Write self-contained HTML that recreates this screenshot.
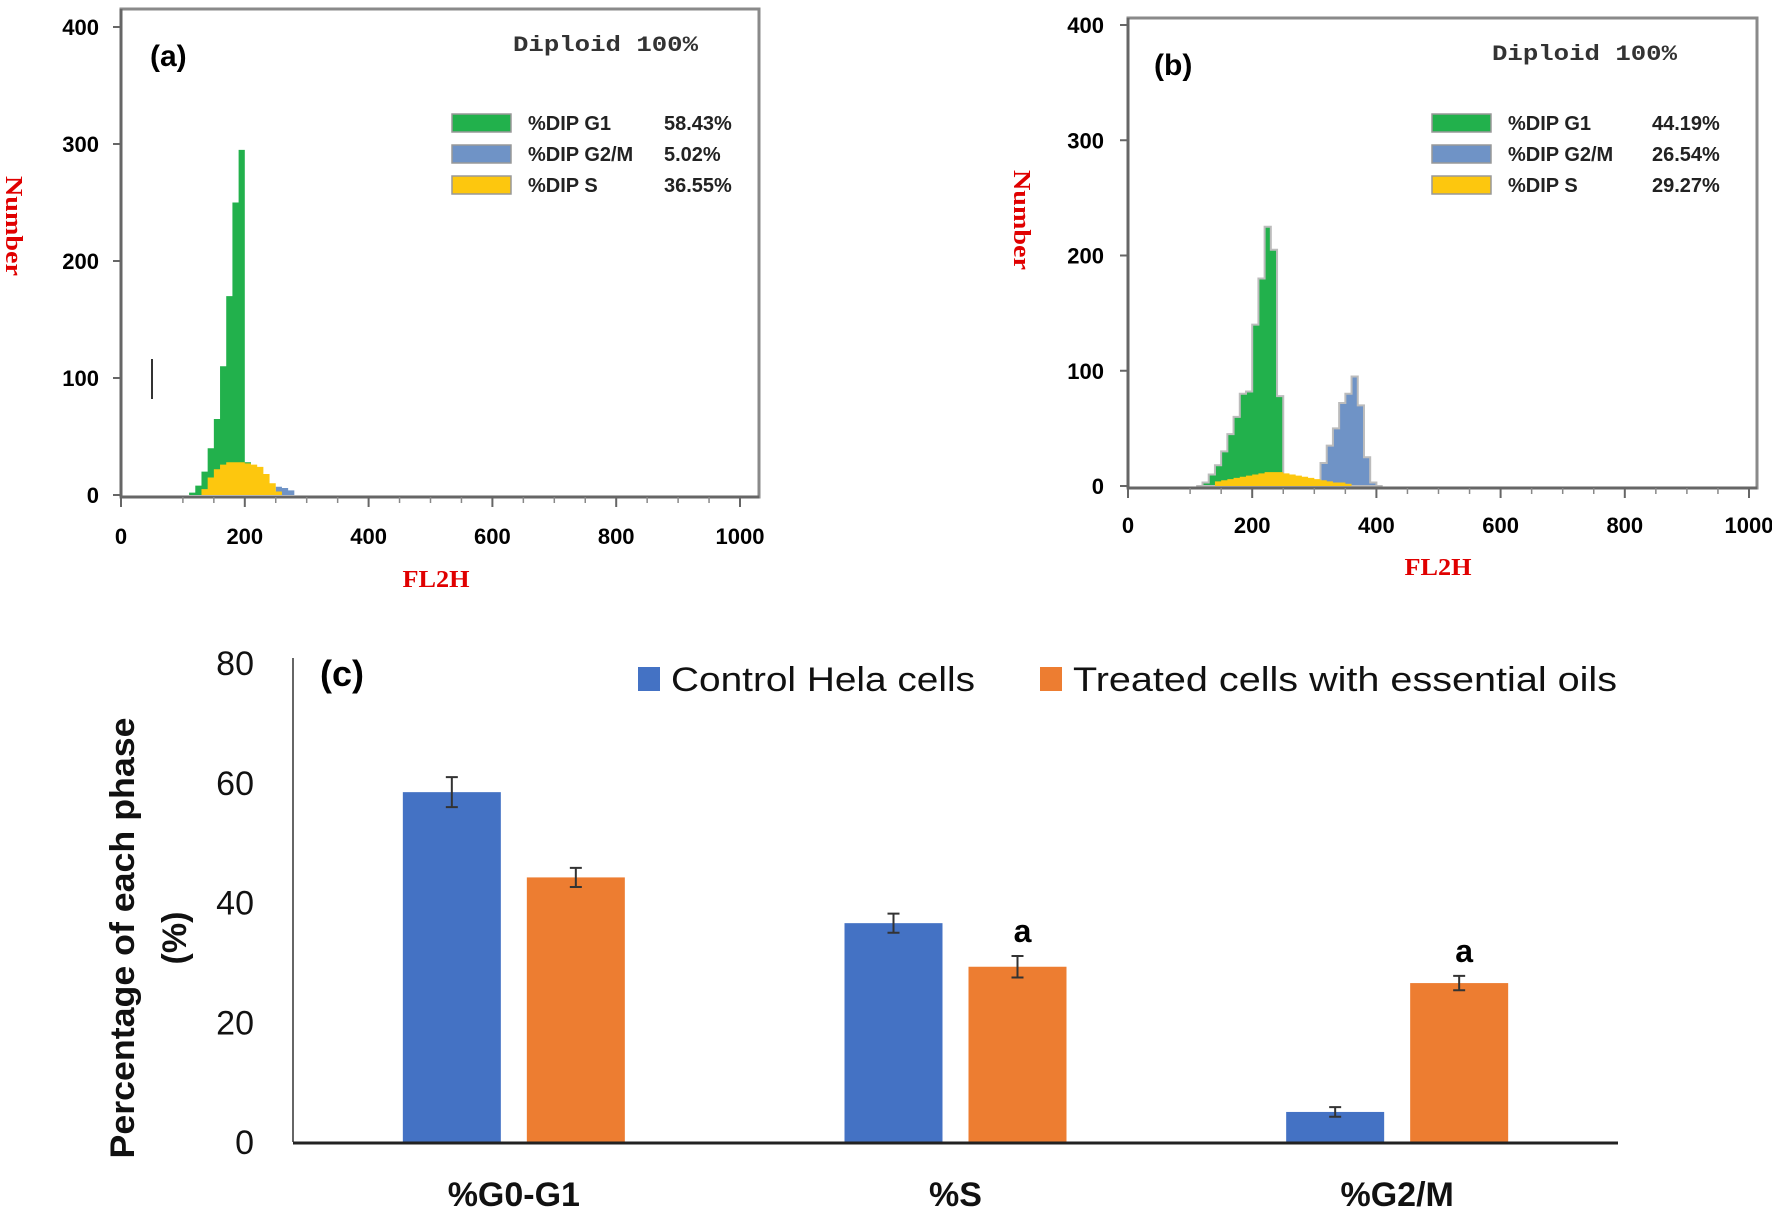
<!DOCTYPE html>
<html><head><meta charset="utf-8"><style>
body{margin:0;background:#fff;}
svg{display:block;font-family:"Liberation Sans",sans-serif;}
</style></head><body>
<svg id="fig" width="1772" height="1214" viewBox="0 0 1772 1214" xmlns="http://www.w3.org/2000/svg"></svg>
<script>
// ---- Panel (a) histogram data (bins of 10 starting at 110) ----
const binStartA = 110;
const g1A = [2, 8, 20, 40, 65, 110, 170, 250, 295, 28, 0, 0, 0, 0, 0, 0, 0, 0];
const sA  = [0, 0, 5, 15, 22, 26, 28, 28, 28, 27, 26, 24, 18, 10, 3, 0, 0, 0];
const g2A = [0, 0, 0, 0, 0, 0, 0, 0, 0, 0, 0, 0, 0, 0, 7, 6, 4, 0];
// ---- Panel (b) histogram data (bins of 10 starting at 110) ----
const binStartB = 110;
const g1B = [0, 3, 10, 18, 30, 45, 60, 80, 82, 140, 180, 225, 205, 78, 0, 0, 0, 0, 0, 0, 0, 0, 0, 0, 0, 0, 0, 0, 0, 0];
const sB  = [0, 0, 0, 4, 5, 6, 7, 8, 9, 10, 11, 12, 12, 12, 11, 10, 9, 8, 7, 6, 5, 4, 3, 3, 2, 0, 0, 0, 0, 0];
const g2B = [0, 0, 0, 0, 0, 0, 0, 0, 0, 0, 0, 0, 0, 0, 0, 0, 0, 0, 0, 0, 20, 35, 50, 72, 80, 95, 70, 25, 3, 0];
// ---- Panel (c) bar data ----
const categories = ["%G0-G1", "%S", "%G2/M"];
const controlVals = [58.43, 36.55, 5.02];
const treatedVals = [44.19, 29.27, 26.54];
const controlErr = [2.5, 1.6, 0.8];
const treatedErr = [1.6, 1.8, 1.2];
const treatedSig = ["", "a", "a"];
const yTicksC = [0, 20, 40, 60, 80];
const histYTicks = [0, 100, 200, 300, 400];
const histXTicks = [0, 200, 400, 600, 800, 1000];

const NS = "http://www.w3.org/2000/svg";
const svg = document.getElementById('fig');
function mk(tag, attrs, parent, text){
  const e = document.createElementNS(NS, tag);
  for (const k in attrs) e.setAttribute(k, attrs[k]);
  if (text !== undefined) e.textContent = text;
  (parent || svg).appendChild(e);
  return e;
}

function histPanel(P){
  const g = mk('g', {});
  
  
  const xs = v => P.x0 + (v / 1000) * (P.x1 - P.x0);
  const ys = v => P.y0 - (v / 400) * (P.y0 - P.y400);
  const fr = mk('rect', {x: P.left, y: P.top, width: P.right - P.left, height: P.bottom - P.top, fill: '#fff', stroke: '#8a8a8a', 'stroke-width': 3}, g);
  
  
  function stepPath(arr, start, color, name, outline){
    let d = 'M' + xs(start) + ',' + ys(0);
    arr.forEach((v, i) => {
      d += ' L' + xs(start + i * 10) + ',' + ys(v) + ' L' + xs(start + (i + 1) * 10) + ',' + ys(v);
    });
    d += ' L' + xs(start + arr.length * 10) + ',' + ys(0) + ' Z';
    const p = mk('path', {d: d, fill: color, stroke: outline ? '#bcbcbc' : 'none', 'stroke-width': outline ? 2 : 0}, g);
    
    
  }
  stepPath(P.g1, P.start, '#22b14c', 'g1-histogram', P.outline);
  stepPath(P.g2, P.start, '#6f93c6', 'g2m-histogram', P.outline);
  stepPath(P.s, P.start, '#fdc70e', 's-histogram', false);
  mk('line', {x1: P.x0, y1: P.y0 + 2, x2: P.right, y2: P.y0 + 2, stroke: '#666', 'stroke-width': 3}, g);
  mk('line', {x1: P.left, y1: P.top, x2: P.left, y2: P.bottom, stroke: '#666', 'stroke-width': 3}, g);
  histXTicks.forEach(t => {
    mk('line', {x1: xs(t), y1: P.y0 + 2, x2: xs(t), y2: P.y0 + 12, stroke: '#666', 'stroke-width': 2}, g);
    const tx = mk('text', {x: xs(t), y: P.xlabY, 'text-anchor': 'middle', 'font-size': 22, 'font-weight': 'bold'}, g, t);
    
    
  });
  for (let t = 100; t < 1000; t += 50) {
    if (t % 200) mk('line', {x1: xs(t), y1: P.y0 + 2, x2: xs(t), y2: P.y0 + 8, stroke: '#888', 'stroke-width': 1.5}, g);
  }
  histYTicks.forEach(t => {
    mk('line', {x1: P.left - 8, y1: ys(t), x2: P.left, y2: ys(t), stroke: '#666', 'stroke-width': 2}, g);
    const ty = mk('text', {x: P.ylabX, y: ys(t) + 8, 'text-anchor': 'end', 'font-size': 22, 'font-weight': 'bold'}, g, t);
    
    
  });
  const pl = mk('text', {x: P.lblX, y: P.top + 57, 'font-size': 30, 'font-weight': 'bold'}, g, P.label);
  
  
  const dp = mk('text', {x: P.dipX, y: P.top + 42, 'font-size': 22, 'font-weight': 'bold', 'font-family': 'Liberation Mono, monospace', fill: '#333', textLength: 185, lengthAdjust: 'spacingAndGlyphs'}, g, 'Diploid 100%');
  
  
  const leg = [['%DIP G1', P.pct[0], '#22b14c'], ['%DIP G2/M', P.pct[1], '#6f93c6'], ['%DIP S', P.pct[2], '#fdc70e']];
  leg.forEach((L, i) => {
    const ly = P.legY + i * 31;
    const r = mk('rect', {x: P.legX, y: ly, width: 59, height: 18, fill: L[2], stroke: '#999', 'stroke-width': 1.5}, g);
    
    
    const t1 = mk('text', {x: P.legX + 76, y: ly + 16, 'font-size': 20, 'font-weight': 'bold', fill: '#222'}, g, L[0]);
    
    
    const t2 = mk('text', {x: P.legVX, y: ly + 16, 'font-size': 20, 'font-weight': 'bold', fill: '#222'}, g, L[1]);
    
    
  });
  const yt = mk('text', {x: 0, y: 0, 'font-size': 24, 'font-weight': 'bold', fill: '#e00000', 'font-family': 'Liberation Serif, serif', 'text-anchor': 'middle', textLength: 100, lengthAdjust: 'spacingAndGlyphs', transform: 'translate(' + P.ytX + ',' + P.ytY + ') rotate(90)'}, g, 'Number');
  
  
  const xt = mk('text', {x: P.xtX, y: P.xtY, 'font-size': 24, 'font-weight': 'bold', fill: '#e00000', 'font-family': 'Liberation Serif, serif', 'text-anchor': 'middle', textLength: 67, lengthAdjust: 'spacingAndGlyphs'}, g, 'FL2H');
  
  
  return g;
}

const ga = histPanel({name: 'histogram-panel-a', left: 121, right: 759, top: 9, bottom: 497, x0: 121, x1: 740, y0: 495, y400: 27,
  start: binStartA, g1: g1A, s: sA, g2: g2A, outline: false, label: '(a)', lblX: 150, dipX: 513,
  legX: 452, legY: 114, legVX: 664, pct: ['58.43%', '5.02%', '36.55%'], ylabX: 99, xlabY: 544, ytX: 6, ytY: 226, xtX: 436, xtY: 587});
mk('line', {x1: 152, y1: 359, x2: 152, y2: 399, stroke: '#333', 'stroke-width': 2}, ga);
histPanel({name: 'histogram-panel-b', left: 1128, right: 1757, top: 18, bottom: 488, x0: 1128, x1: 1749, y0: 486, y400: 25,
  start: binStartB, g1: g1B, s: sB, g2: g2B, outline: true, label: '(b)', lblX: 1154, dipX: 1492,
  legX: 1432, legY: 114, legVX: 1652, pct: ['44.19%', '26.54%', '29.27%'], ylabX: 1104, xlabY: 533, ytX: 1014, ytY: 220, xtX: 1438, xtY: 575});

// ---- Panel (c) bar chart ----
const C = {left: 293, right: 1618, base: 1142, top80: 663};
const gc = mk('g', {});


const yc = v => C.base - (v / 80) * (C.base - C.top80);
const bandW = (C.right - C.left) / categories.length;
const barW = 98, gap = 26;
mk('line', {x1: C.left, y1: C.top80 - 5, x2: C.left, y2: C.base, stroke: '#333', 'stroke-width': 1.5}, gc);
yTicksC.forEach(t => {
  const tx = mk('text', {x: 254, y: yc(t) + 12, 'text-anchor': 'end', 'font-size': 34, fill: '#111'}, gc, t);
  
  
});
categories.forEach((c, i) => {
  const cx = C.left + bandW * (i + 0.5);
  const series = [[controlVals[i], controlErr[i], '#4472c4', cx - gap / 2 - barW, 'bar-control'], [treatedVals[i], treatedErr[i], '#ed7d31', cx + gap / 2, 'bar-treated']];
  series.forEach(S => {
    const b = mk('rect', {x: S[3], y: yc(S[0]), width: barW, height: C.base - yc(S[0]), fill: S[2]}, gc);
    
    
    const mx = S[3] + barW / 2;
    const e = mk('path', {d: 'M' + mx + ',' + yc(S[0] + S[1]) + ' V' + yc(S[0] - S[1]) + ' M' + (mx - 6) + ',' + yc(S[0] + S[1]) + ' H' + (mx + 6) + ' M' + (mx - 6) + ',' + yc(S[0] - S[1]) + ' H' + (mx + 6), stroke: '#333', 'stroke-width': 2, fill: 'none'}, gc);
    
    
  });
  if (treatedSig[i]) {
    const sx = cx + gap / 2 + barW / 2;
    const st = mk('text', {x: sx + 5, y: yc(treatedVals[i] + treatedErr[i]) - 14, 'text-anchor': 'middle', 'font-size': 32, 'font-weight': 'bold'}, gc, treatedSig[i]);
    
    
  }
  const cl = mk('text', {x: cx, y: 1206, 'text-anchor': 'middle', 'font-size': 34, 'font-weight': 'bold', fill: '#111'}, gc, c);
  
  
});
mk('line', {x1: C.left, y1: C.base + 1, x2: C.right, y2: C.base + 1, stroke: '#222', 'stroke-width': 3}, gc);
const lc = mk('text', {x: 320, y: 686, 'font-size': 36, 'font-weight': 'bold'}, gc, '(c)');


const l1 = mk('rect', {x: 638, y: 667, width: 22, height: 24, fill: '#4472c4'}, gc);


const lt1 = mk('text', {x: 671, y: 691, 'font-size': 34, fill: '#111', textLength: 304, lengthAdjust: 'spacingAndGlyphs'}, gc, 'Control Hela cells');


const l2 = mk('rect', {x: 1040, y: 667, width: 22, height: 24, fill: '#ed7d31'}, gc);


const lt2 = mk('text', {x: 1073, y: 691, 'font-size': 34, fill: '#111', textLength: 544, lengthAdjust: 'spacingAndGlyphs'}, gc, 'Treated cells with essential oils');


const yt1 = mk('text', {x: 0, y: 0, 'font-size': 34, 'font-weight': 'bold', 'text-anchor': 'middle', fill: '#111', textLength: 441, lengthAdjust: 'spacingAndGlyphs', transform: 'translate(134,938) rotate(-90)'}, gc, 'Percentage of each phase');


const yt2 = mk('text', {x: 0, y: 0, 'font-size': 34, 'font-weight': 'bold', 'text-anchor': 'middle', fill: '#111', transform: 'translate(186,938) rotate(-90)'}, gc, '(%)');


</script>
</body></html>
